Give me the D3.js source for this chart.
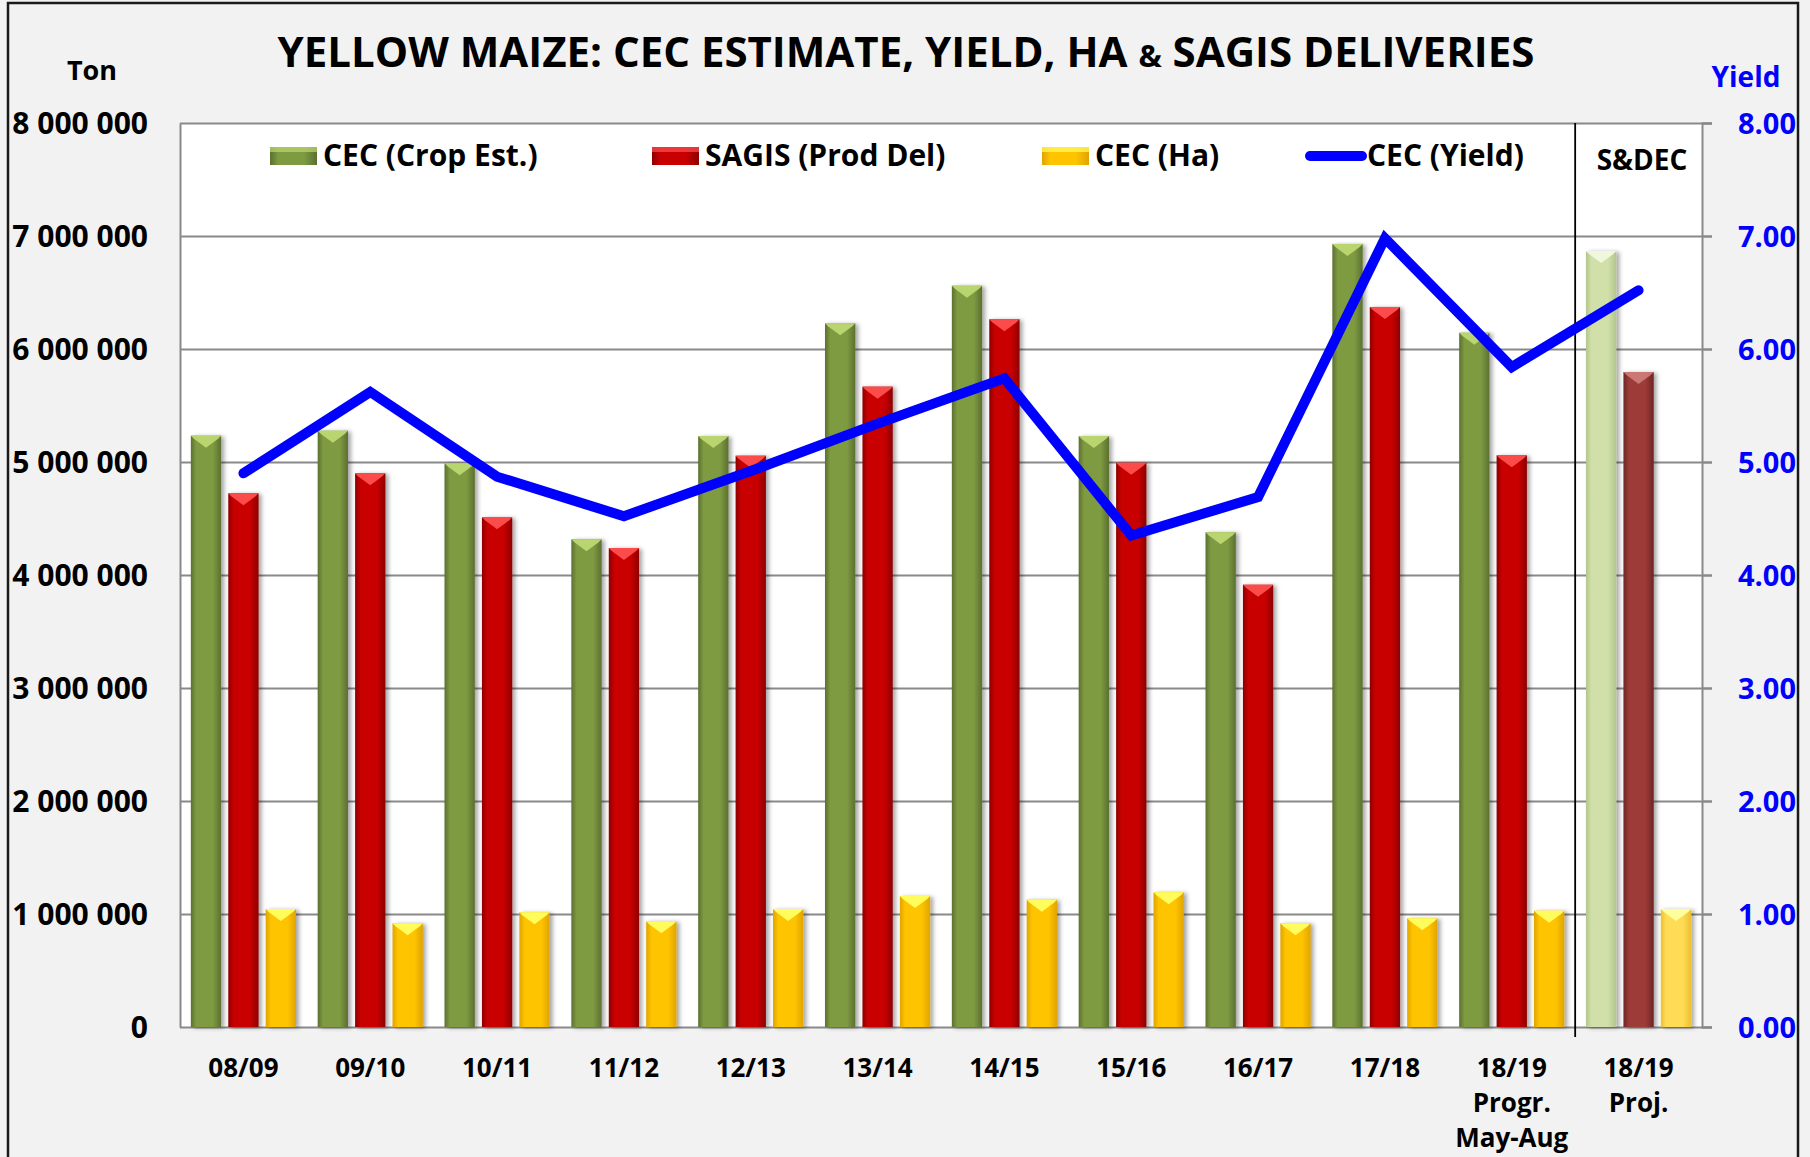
<!DOCTYPE html>
<html>
<head>
<meta charset="utf-8">
<script src="https://cdn.jsdelivr.net/npm/d3@7"></script>
<style>
  body { margin: 0; background: #fff; }
  svg text { font-family: "Open Sans", "Lato", sans-serif; font-weight: 700; }
</style>
</head>
<body>
<script>
// chart size
const w = 1810;
const h = 1157;

// data
const seasons = ["08/09", "09/10", "10/11", "11/12", "12/13", "13/14", "14/15", "15/16", "16/17", "17/18", "18/19", "18/19"];
const seasonNotes = ["", "", "", "", "", "", "", "", "", "", "Progr.|May-Aug", "Proj."];
const cropEst = [5233000, 5277000, 4988000, 4316000, 5230000, 6227000, 6560000, 5230000, 4378000, 6930000, 6144000, 6867000];
const sagisDel = [4723000, 4900000, 4510000, 4239000, 5056000, 5667000, 6263000, 4994000, 3914000, 6372000, 5059000, 5796000];
const hectares = [1044000, 918000, 1015000, 935000, 1044000, 1159000, 1127000, 1192000, 918000, 962000, 1029000, 1044000];
const yields = [4.90, 5.62, 4.87, 4.52, 4.92, 5.34, 5.74, 4.35, 4.69, 6.98, 5.84, 6.52];
const leftTicks = [0, 1000000, 2000000, 3000000, 4000000, 5000000, 6000000, 7000000, 8000000];
const rightTicks = [0, 1, 2, 3, 4, 5, 6, 7, 8];
const seriesNames = ["CEC (Crop Est.)", "SAGIS (Prod Del)", "CEC (Ha)", "CEC (Yield)"];

// plot area
const pLeft = 180, pRight = 1702, pTop = 123, pBottom = 1027;

const svg = d3.select("body").append("svg")
    .attr("width", w)
    .attr("height", h);

// colours: [edge, base, bevel]
const pal = {
  green: ["#5b7030", "#7f9b42", "#bcd872"],
  red: ["#8e0000", "#c80000", "#ff5050"],
  yellow: ["#e0a400", "#ffc400", "#ffff60"],
  green2: ["#b3c58e", "#d0e0a8", "#f2f8e0"],
  red2: ["#6e2524", "#9c3b39", "#cc7a77"],
  yellow2: ["#ecc030", "#ffdc55", "#ffffa0"]
};

const defs = svg.append("defs");
Object.keys(pal).forEach(k => {
  const g = defs.append("linearGradient").attr("id", "g-" + k)
      .attr("x1", 0).attr("x2", 1).attr("y1", 0).attr("y2", 0);
  g.append("stop").attr("offset", "0%").attr("stop-color", pal[k][0]);
  g.append("stop").attr("offset", "18%").attr("stop-color", pal[k][1]);
  g.append("stop").attr("offset", "72%").attr("stop-color", pal[k][1]);
  g.append("stop").attr("offset", "100%").attr("stop-color", pal[k][0]);
});
defs.append("filter").attr("id", "shadow")
    .attr("x", "-30%").attr("y", "-5%").attr("width", "170%").attr("height", "115%")
  .append("feDropShadow")
    .attr("dx", 3).attr("dy", 1).attr("stdDeviation", 2)
    .attr("flood-color", "#000").attr("flood-opacity", 0.35);

// background + outer frame
svg.append("rect").attr("width", w).attr("height", h).attr("fill", "#f2f2f2");
svg.append("rect")
    .attr("x", 8).attr("y", 3).attr("width", 1790).attr("height", h + 10)
    .attr("fill", "none").attr("stroke", "#1a1a1a").attr("stroke-width", 2.5);

// plot background
svg.append("rect")
    .attr("x", pLeft).attr("y", pTop).attr("width", pRight - pLeft).attr("height", pBottom - pTop)
    .attr("fill", "#fff");

// scales
const x0 = d3.scaleBand().domain(d3.range(seasons.length)).range([pLeft, pRight]);
const x1 = d3.scaleBand().domain([0, 1, 2]).range([0, x0.bandwidth()])
    .paddingInner(0.19).paddingOuter(0.29);
const yLeft = d3.scaleLinear().domain([0, 8000000]).range([pBottom, pTop]);
const yRight = d3.scaleLinear().domain([0, 8]).range([pBottom, pTop]);

// gridlines
svg.append("g")
    .attr("transform", `translate(${pLeft},0)`)
    .call(d3.axisLeft(yLeft).tickValues(leftTicks).tickSize(-(pRight - pLeft + 10)).tickFormat(""))
    .call(g => g.select(".domain").remove())
    .call(g => g.selectAll("line").attr("stroke", "#898989").attr("stroke-width", 2));

// left axis labels
svg.append("g")
    .attr("transform", `translate(${pLeft},0)`)
    .call(d3.axisLeft(yLeft).tickValues(leftTicks).tickSize(0).tickPadding(32)
      .tickFormat(d => d3.format(",")(d).replace(/,/g, " ")))
    .call(g => g.select(".domain").attr("stroke", "#898989").attr("stroke-width", 2))
    .call(g => g.selectAll("text").attr("font-size", 30).attr("fill", "#000")
      .attr("font-family", "'Open Sans', sans-serif").attr("dy", "0.36em"));

// right axis
svg.append("g")
    .attr("transform", `translate(${pRight},0)`)
    .call(d3.axisRight(yRight).tickValues(rightTicks).tickSize(10).tickPadding(26)
      .tickFormat(d3.format(".2f")))
    .call(g => g.select(".domain").attr("stroke", "#898989").attr("stroke-width", 2))
    .call(g => g.selectAll("line").attr("stroke", "#898989").attr("stroke-width", 2))
    .call(g => g.selectAll("text").attr("font-size", 29).attr("fill", "#0000ff")
      .attr("font-family", "'Open Sans', sans-serif").attr("dy", "0.36em"));

// bars
const series = [
  { vals: cropEst, col: "green", col2: "green2" },
  { vals: sagisDel, col: "red", col2: "red2" },
  { vals: hectares, col: "yellow", col2: "yellow2" }
];
const last = seasons.length - 1;
const bars = [];
series.forEach((s, si) => {
  s.vals.forEach((v, i) => bars.push({ i, si, v, col: i === last ? s.col2 : s.col }));
});

const barG = svg.append("g").selectAll("g")
    .data(bars)
    .enter()
    .append("g")
    .attr("filter", "url(#shadow)");

barG.append("rect")
    .attr("x", d => x0(d.i) + x1(d.si))
    .attr("y", d => yLeft(d.v))
    .attr("width", x1.bandwidth())
    .attr("height", d => pBottom - yLeft(d.v))
    .attr("fill", d => `url(#g-${d.col})`);

// bevelled top
barG.append("path")
    .attr("d", d => {
      const xa = x0(d.i) + x1(d.si), xb = xa + x1.bandwidth(), xc = (xa + xb) / 2, y = yLeft(d.v);
      return `M${xa},${y}L${xb},${y}L${xb - 3},${y + 3}L${xc},${y + 12}L${xa + 3},${y + 3}Z`;
    })
    .attr("fill", d => pal[d.col][2])
    .attr("opacity", 0.95);

// separator for projection
svg.append("line")
    .attr("x1", x0(last)).attr("x2", x0(last))
    .attr("y1", pTop).attr("y2", pBottom + 10)
    .attr("stroke", "#000").attr("stroke-width", 1.8);

// yield line
svg.append("path")
    .datum(yields)
    .attr("d", d3.line().x((d, i) => x0(i) + x0.bandwidth() / 2).y(d => yRight(d)))
    .attr("fill", "none")
    .attr("stroke", "#0000ff")
    .attr("stroke-width", 10)
    .attr("stroke-linecap", "round")
    .attr("stroke-linejoin", "miter");

// category labels
const xl = svg.append("g").selectAll("text")
    .data(seasons)
    .enter()
    .append("text")
    .attr("text-anchor", "middle")
    .attr("font-size", 26)
    .attr("fill", "#000")
    .attr("x", (d, i) => x0(i) + x0.bandwidth() / 2)
    .attr("y", 1077);
xl.each(function (d, i) {
  const t = d3.select(this);
  const xc = x0(i) + x0.bandwidth() / 2;
  t.append("tspan").attr("x", xc).text(d);
  if (seasonNotes[i]) {
    seasonNotes[i].split("|").forEach(line => {
      t.append("tspan").attr("x", xc).attr("dy", 35).text(line);
    });
  }
});

// title + axis titles
svg.append("text")
    .attr("x", 906).attr("y", 67)
    .attr("text-anchor", "middle")
    .attr("font-size", 42)
    .attr("fill", "#000")
    .call(t => {
      t.append("tspan").text("YELLOW MAIZE: CEC ESTIMATE, YIELD, HA ");
      t.append("tspan").attr("font-size", 31).text("&");
      t.append("tspan").text(" SAGIS DELIVERIES");
    });
svg.append("text").attr("x", 92).attr("y", 80).attr("text-anchor", "middle")
    .attr("font-size", 27).attr("fill", "#000").text("Ton");
svg.append("text").attr("x", 1746).attr("y", 87).attr("text-anchor", "middle")
    .attr("font-size", 28).attr("fill", "#0000ff").text("Yield");
svg.append("text").attr("x", 1642).attr("y", 170).attr("text-anchor", "middle")
    .attr("font-size", 28).attr("fill", "#000").text("S&DEC");

// legend
const legX = [270, 652, 1042, 1305];
const leg = svg.append("g").selectAll("g")
    .data(seriesNames)
    .enter()
    .append("g")
    .attr("transform", (d, i) => `translate(${legX[i]},156)`);
leg.filter((d, i) => i < 3).append("rect")
    .attr("x", 0).attr("y", -9).attr("width", 47).attr("height", 18)
    .attr("fill", (d, i) => `url(#g-${series[i].col})`);
leg.filter((d, i) => i < 3).append("rect")
    .attr("x", 0).attr("y", -9).attr("width", 47).attr("height", 5)
    .attr("fill", (d, i) => pal[series[i].col][2]).attr("opacity", 0.7);
leg.filter((d, i) => i === 3).append("line")
    .attr("x1", 5).attr("x2", 57).attr("y1", 0).attr("y2", 0)
    .attr("stroke", "#0000ff").attr("stroke-width", 10).attr("stroke-linecap", "round");
leg.append("text")
    .attr("x", (d, i) => i === 3 ? 62 : 53)
    .attr("y", 10)
    .attr("font-size", 30)
    .attr("fill", "#000")
    .text(d => d);
</script>
</body>
</html>
